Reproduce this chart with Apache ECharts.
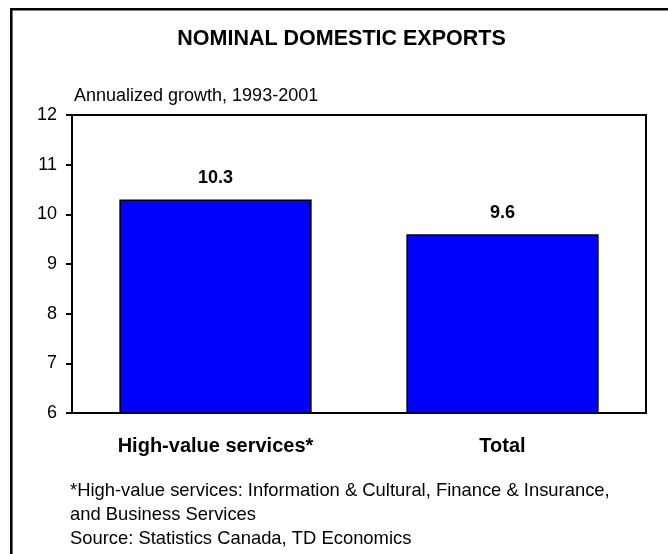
<!DOCTYPE html>
<html>
<head>
<meta charset="utf-8">
<script src="https://cdn.jsdelivr.net/npm/echarts@6/dist/echarts.min.js"></script>
<style>
  html, body { margin: 0; padding: 0; background: #fff; }
  #chart { width: 668px; height: 554px; }
</style>
</head>
<body>
<div id="chart"></div>
<script>
// Nominal domestic exports: annualized growth 1993-2001 (%)
const categories = ['High-value services*', 'Total'];
const growth = [10.3, 9.6];
const yTicks = { min: 6, max: 12, step: 1 };

const titleText = 'NOMINAL DOMESTIC EXPORTS';
const unitText = 'Annualized growth, 1993-2001';
const notes = [
  '*High-value services: Information & Cultural, Finance & Insurance,',
  'and Business Services',
  'Source: Statistics Canada, TD Economics'
];

const FONT = '"Liberation Sans", Arial, sans-serif';

const chart = echarts.init(document.getElementById('chart'), null, { renderer: 'canvas' });

// text placed by its vertical middle
function label(text, x, y, font, align) {
  return {
    type: 'text', x: x, y: y, silent: true,
    style: { text: text, align: align, verticalAlign: 'middle', font: font, fill: '#000' }
  };
}

chart.setOption({
  backgroundColor: '#ffffff',
  animation: false,
  grid: {
    left: 72, top: 115, right: 22, bottom: 141,
    show: true, borderColor: '#000', borderWidth: 2, backgroundColor: 'transparent'
  },
  xAxis: {
    type: 'category',
    data: categories,
    axisLine: { lineStyle: { color: '#000', width: 2 } },
    axisTick: { show: false },
    axisLabel: { color: '#000', fontFamily: FONT, fontSize: 20, fontWeight: 'bold', margin: 23 }
  },
  yAxis: {
    type: 'value',
    min: yTicks.min, max: yTicks.max, interval: yTicks.step,
    splitLine: { show: false },
    axisLine: { show: true, lineStyle: { color: '#000', width: 2 } },
    axisTick: { show: true, length: 6, lineStyle: { color: '#000', width: 2 } },
    axisLabel: { color: '#000', fontFamily: FONT, fontSize: 18, margin: 15 }
  },
  series: [{
    type: 'bar',
    data: growth,
    barWidth: '67%',
    itemStyle: { color: '#0000ff', borderColor: '#000', borderWidth: 1.5 },
    label: {
      show: true, position: 'top', distance: 12,
      color: '#000', fontFamily: FONT, fontSize: 18, fontWeight: 'bold',
      formatter: p => p.value.toFixed(1)
    }
  }],
  graphic: [
    // frame edges
    { type: 'polyline', silent: true,
      shape: { points: [[11.3, 560], [11.3, 9.3], [680, 9.3]] },
      style: { stroke: '#000', lineWidth: 2.5, fill: null } },
    label(titleText, 341.5, 39.5, 'bold 21.5px ' + FONT, 'center'),
    label(unitText, 74, 96.5, '18px ' + FONT, 'left'),
    ...notes.map((t, i) => label(t, 70, 490.5 + i * 24, '18.4px ' + FONT, 'left'))
  ]
});
</script>
</body>
</html>
